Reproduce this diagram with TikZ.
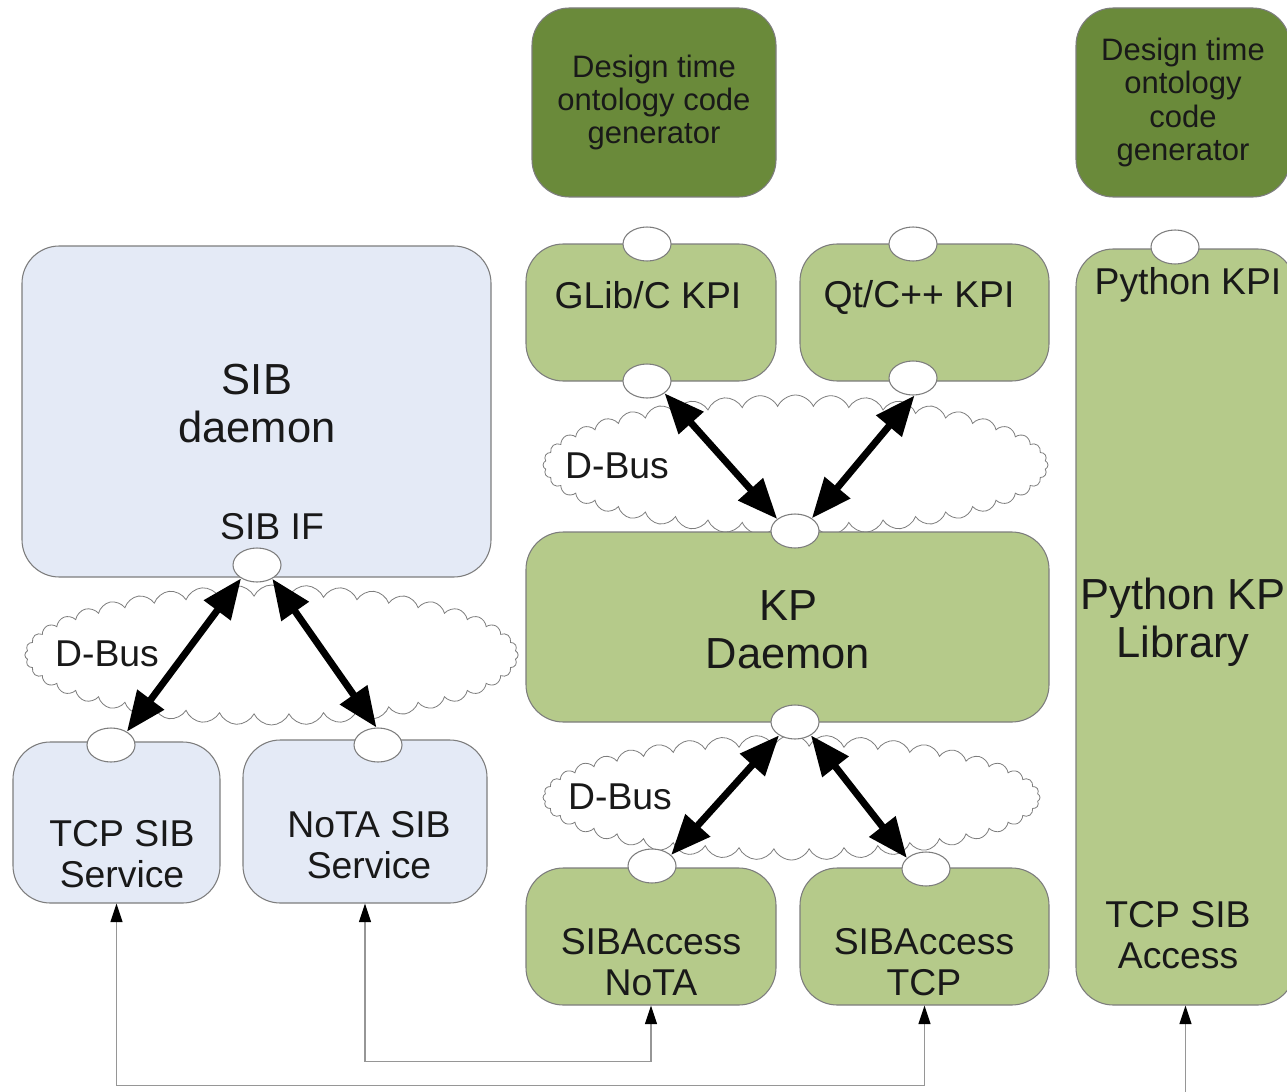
\documentclass[tikz,border=0pt]{standalone}
\usepackage{fontspec}
\setmainfont{Liberation Sans}
\usetikzlibrary{shapes.geometric,shapes.symbols,arrows.meta}
\definecolor{genGreen}{RGB}{106,138,58}
\definecolor{kpGreen}{RGB}{181,202,138}
\definecolor{sibBlue}{RGB}{228,234,246}
\definecolor{edgeGray}{RGB}{125,125,125}
\definecolor{lineGray}{RGB}{150,150,150}
\definecolor{txtCol}{RGB}{25,25,25}
\newcommand\szS{\fontsize{23.25}{25}\selectfont}
\newcommand\szM{\fontsize{28}{31}\selectfont}
\newcommand\szL{\fontsize{32.6}{36}\selectfont}
\begin{document}
\begin{tikzpicture}[x=0.75pt,y=-0.75pt,
    box/.style={draw=edgeGray, line width=0.8pt, rounded corners=28pt, inner sep=0pt, align=center, text=txtCol},
    genbox/.style={box, fill=genGreen},
    kpbox/.style={box, fill=kpGreen},
    sibbox/.style={box, fill=sibBlue},
    port/.style={ellipse, draw=edgeGray, fill=white, line width=0.8pt, minimum width=36pt, minimum height=25.5pt, inner sep=0pt},
    bus/.style={cloud, cloud puffs=44, cloud puff arc=130, cloud ignores aspect, draw=edgeGray, fill=white, line width=0.6pt, inner sep=0pt},
    txt/.style={text=txtCol, align=center, inner sep=0pt},
    dbus/.style={line width=5.2pt, {Triangle[length=30pt,width=24pt]}-{Triangle[length=30pt,width=24pt]}},
    wire/.style={draw=lineGray, line width=1pt, {Triangle[length=14pt,width=9pt,color=black]}-{Triangle[length=14pt,width=9pt,color=black]}},
    inwire/.style={draw=lineGray, line width=1pt, -{Triangle[length=14pt,width=9pt,color=black]}}
    ]
    \useasboundingbox (0,0) rectangle (1287,1091);
    \clip (0,0) rectangle (1287,1091);
    \node[bus, minimum width=370pt, minimum height=105pt] (cloudsib) at (271.5,655) {};
    \node[bus, minimum width=378.75pt, minimum height=105pt] (cloudkpi) at (795.5,465) {};
    \node[bus, minimum width=372.75pt, minimum height=93.75pt] (cloudacc) at (791.5,797.5) {};
    \node[genbox, minimum width=183pt, minimum height=141.75pt, font=\szS] (gencpp) at (654,102.5) {Design time\\ontology code\\generator};
    \node[genbox, minimum width=160.5pt, minimum height=141.75pt, font=\szS] (genpy) at (1183,102.5) {Design time\\ontology\\code\\generator};
    \node[sibbox, minimum width=351.75pt, minimum height=248.25pt] (sibd) at (256.5,411.5) {};
    \node[sibbox, minimum width=155.25pt, minimum height=120.75pt] (tcpsvc) at (116.5,822.5) {};
    \node[sibbox, minimum width=183pt, minimum height=122.25pt] (notasvc) at (365,821.5) {};
    \node[kpbox, minimum width=187.5pt, minimum height=102.75pt] (glib) at (651,312.5) {};
    \node[kpbox, minimum width=186.75pt, minimum height=102.75pt] (qt) at (924.5,312.5) {};
    \node[kpbox, minimum width=164.25pt, minimum height=567pt] (pylib) at (1185.5,627) {};
    \node[kpbox, minimum width=392.25pt, minimum height=142.5pt] (kpd) at (787.5,627) {};
    \node[kpbox, minimum width=187.5pt, minimum height=102.75pt] (sibnota) at (651,936.5) {};
    \node[kpbox, minimum width=186.75pt, minimum height=102.75pt] (sibtcp) at (924.5,936.5) {};
    \node[txt, font=\szL] (sibdtext) at (257,404) {SIB\\daemon};
    \node[txt, font=\szM] (sibiftext) at (272,527) {SIB IF};
    \node[txt, font=\szM] (tcpsvctext) at (122,854) {TCP SIB\\Service};
    \node[txt, font=\szM] (notasvctext) at (369,845) {NoTA SIB\\Service};
    \node[txt, font=\szM] (glibtext) at (648,295) {GLib/C KPI};
    \node[txt, font=\szM] (qttext) at (919,298) {Qt/C++ KPI};
    \node[txt, font=\szM] (pykpitext) at (1188,285) {Python KPI};
    \node[txt, font=\szL] (pylibtext) at (1183,622) {Python KP\\Library};
    \node[txt, font=\szM] (pyacctext) at (1178,935) {TCP SIB\\Access};
    \node[txt, font=\szL] (kpdtext) at (788,630) {KP\\Daemon};
    \node[txt, font=\szM] (notatext) at (651,962) {SIBAccess\\NoTA};
    \node[txt, font=\szM] (tcptext) at (924,962) {SIBAccess\\TCP};
    \node[txt, font=\szM] (dbussib) at (107,654) {D-Bus};
    \node[txt, font=\szM] (dbuskpi) at (617,466) {D-Bus};
    \node[txt, font=\szM] (dbusacc) at (620,797) {D-Bus};
    \node[port] (sibif) at (257,565) {};
    \node[port] (ptcpsvc) at (111,745) {};
    \node[port] (pnotasvc) at (378,745) {};
    \node[port] (pglibtop) at (647,244) {};
    \node[port] (pglibbot) at (647,381) {};
    \node[port] (pqttop) at (913,244) {};
    \node[port] (pqtbot) at (913,378) {};
    \node[port] (pkptop) at (795,531) {};
    \node[port] (pkpbot) at (795,722) {};
    \node[port] (pnota) at (652,866) {};
    \node[port] (ptcp) at (926,869) {};
    \node[port] (ppy) at (1175,247) {};
    \draw[dbus] (sibif.220) -- (ptcpsvc.40);
    \draw[dbus] (sibif.318) -- (pnotasvc.95);
    \draw[dbus] (pglibbot.325) -- (pkptop.146);
    \draw[dbus] (pqtbot.275) -- (pkptop.37);
    \draw[dbus] (pkpbot.220) -- (pnota.30);
    \draw[dbus] (pkpbot.320) -- (ptcp.150);
    \draw[wire] (notasvc.south) -- ++(0,158) -| (sibnota.south);
    \draw[wire] (tcpsvc.south) -- ++(0,182) -| (sibtcp.south);
    \coordinate (pyin) at (1185.5,1100);
    \draw[inwire] (pyin) -- (pylib.south);
\end{tikzpicture}
\end{document}
